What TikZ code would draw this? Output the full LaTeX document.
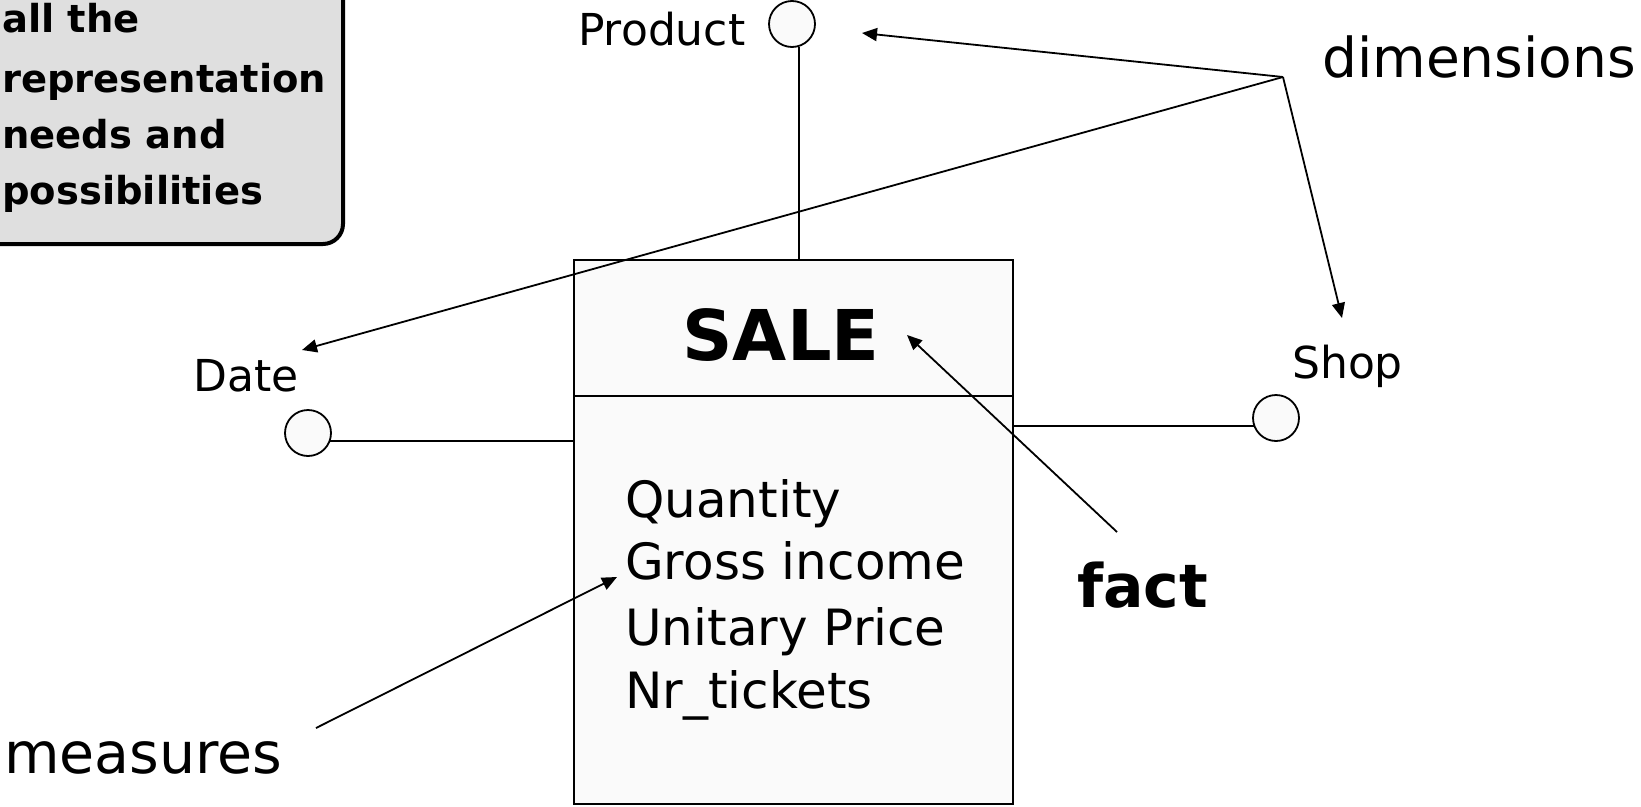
\documentclass[tikz,border=0pt]{standalone}
\usepackage{fontspec}
\setmainfont{DejaVu Sans}
\usetikzlibrary{arrows.meta}
\definecolor{callgray}{HTML}{DFDFDF}
\definecolor{boxfill}{HTML}{FAFAFA}
\newcommand{\myfs}[1]{\fontsize{#1}{#1}\selectfont}
\begin{document}
\begin{tikzpicture}[x=1pt,y=-1pt,
  lbl/.style={anchor=base west, inner sep=0pt},
  ring/.style={circle, draw, line width=1.8pt, fill=boxfill, minimum size=46pt, inner sep=0pt},
  link/.style={line width=1.9pt},
  panel/.style={draw, line width=1.8pt, fill=boxfill, anchor=north west, minimum width=439pt, inner sep=0pt},
  pointer/.style={line width=1.8pt, -{Triangle[length=15pt,width=13pt]}},
 ]
\useasboundingbox (0,0) rectangle (1641,806);
\clip (0,0) rectangle (1641,806);
% callout
\draw[line width=4pt, fill=callgray, rounded corners=20pt] (-60,-60) rectangle (343,244);
\node[lbl, font=\bfseries\myfs{38.5}] (c1) at (2,32) {all the};
\node[lbl, font=\bfseries\myfs{38.5}] (c2) at (2,92) {representation};
\node[lbl, font=\bfseries\myfs{38.5}] (c3) at (2,148) {needs and};
\node[lbl, font=\bfseries\myfs{38.5}] (c4) at (2,204) {possibilities};
% fact box
\node[panel, minimum height=136pt] (head) at (573,259) {};
\node[panel, minimum height=408pt] (body) at (573,395) {};
\node[anchor=base, inner sep=0pt, font=\bfseries\myfs{70}] (sale) at (781,360) {SALE};
\node[lbl, font=\myfs{50}] (m1) at (625,517) {Quantity};
\node[lbl, font=\myfs{50}] (m2) at (625,579) {Gross income};
\node[lbl, font=\myfs{50}] (m3) at (625,645) {Unitary Price};
\node[lbl, font=\myfs{50}] (m4) at (625,708) {Nr\_tickets};
% dimensions
\node[ring] (prod) at (792,24) {};
\node[ring] (date) at (308,433) {};
\node[ring] (shop) at (1276,418) {};
\node[lbl, font=\myfs{44}] (prodl) at (578,45) {Product};
\node[lbl, font=\myfs{44}] (datel) at (193,391) {Date};
\node[lbl, font=\myfs{44}] (shopl) at (1292,378) {Shop};
\draw[link] (prod.-72) -- (prod.-72 |- head.north);
\draw[link] (date.-20) -- (date.-20 -| body.west);
\draw[link] (shop.200) -- (shop.200 -| body.east);
% annotation labels
\node[lbl, font=\myfs{55}] (diml) at (1322,77) {dimensions};
\node[lbl, font=\myfs{57}] (measl) at (4,773) {measures};
\node[lbl, font=\bfseries\myfs{60}] (factl) at (1077,607) {fact};
\coordinate (dim) at (1283,77);
\coordinate (prodtip) at (862,33);
\coordinate (datetip) at (302,350);
\coordinate (shoptip) at (1342,318);
\coordinate (facttail) at (1117,532);
\coordinate (facttip) at (907,335);
\coordinate (meastail) at (316,728);
\coordinate (meastip) at (617,577);
\draw[pointer] (dim) -- (prodtip);
\draw[pointer] (dim) -- (datetip);
\draw[pointer] (dim) -- (shoptip);
\draw[pointer] (facttail) -- (facttip);
\draw[pointer] (meastail) -- (meastip);
\end{tikzpicture}
\end{document}
